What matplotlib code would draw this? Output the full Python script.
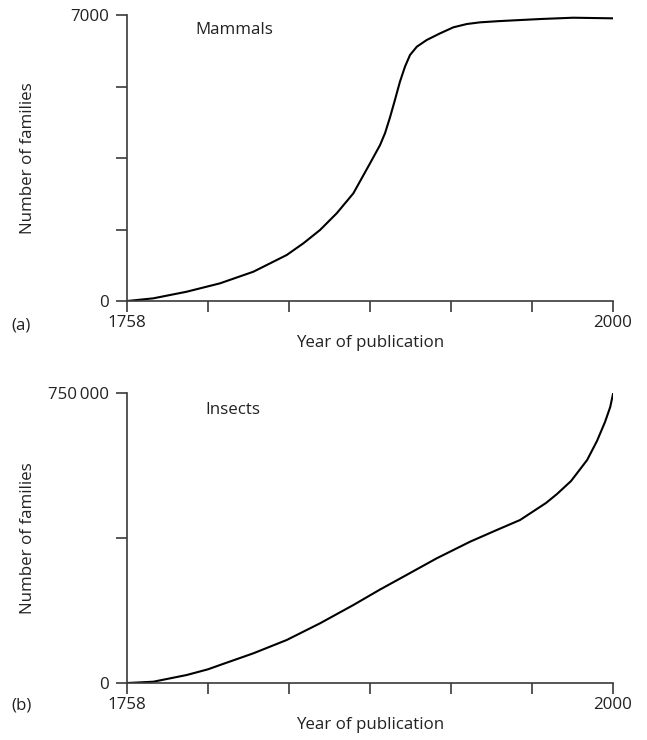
import numpy as np
import matplotlib
matplotlib.use("Agg")
import matplotlib.pyplot as plt

# mammal families described, cumulative
mammal_years = [1758, 1771.1, 1787.7, 1804.3, 1820.9, 1837.5, 1845.8, 1854.1,
                1862.4, 1870.7, 1879.0, 1884.0, 1886.5, 1889.0, 1891.4, 1893.9,
                1896.4, 1898.9, 1902.3, 1907.2, 1913.9, 1920.5, 1927.2, 1933.8,
                1942.9, 1963.7, 1980.2, 2000]
mammal_counts = [0, 66, 228, 433, 717, 1126, 1412, 1738,
                 2147, 2636, 3370, 3818, 4112, 4504, 4920, 5368,
                 5735, 6021, 6224, 6388, 6552, 6699, 6780, 6821,
                 6850, 6902, 6934, 6919]

# insect families described, cumulative
insect_years = [1758, 1771.1, 1787.7, 1798.3, 1804.3, 1820.9, 1837.5, 1854.1,
                1870.7, 1884.0, 1895.6, 1912.2, 1928.8, 1942.1, 1953.7, 1966.6,
                1972.1, 1979.1, 1987.1, 1992.0, 1996.0, 1998.6, 2000]
insect_counts = [0, 3360, 20690, 35430, 46550, 76810, 111210, 154400,
                 201720, 241810, 274910, 322500, 365430, 395690, 421550, 465520,
                 488790, 522410, 576720, 625860, 675000, 713790, 748000]

year_min, year_max = 1758, 2000
x_ticks = np.linspace(year_min, year_max, 7)
x_ticklabels = ["1758", "", "", "", "", "", "2000"]

plt.rc('font', family='Open Sans', size=12.2)
spine_col = '#3a3a3a'
text_col = '#222222'

fig = plt.figure(figsize=(6.47, 7.40), dpi=100)
ax_a = fig.add_axes([0.1963, 0.5932, 0.7512, 0.3865])
ax_b = fig.add_axes([0.1963, 0.0770, 0.7512, 0.3919])


def style_axis(ax, ymax, yticks, yticklabels, xlab_y):
    ax.set_xlim(year_min, year_max)
    ax.set_ylim(0, ymax)
    for side in ['top', 'right']:
        ax.spines[side].set_visible(False)
    for side in ['left', 'bottom']:
        ax.spines[side].set_color(spine_col)
        ax.spines[side].set_linewidth(1.2)
    ax.set_xticks(x_ticks)
    ax.set_xticklabels(x_ticklabels)
    ax.set_yticks(yticks)
    ax.set_yticklabels(yticklabels)
    ax.tick_params(axis='both', direction='out', length=8, width=1.2,
                   color=spine_col, colors=text_col)
    ax.tick_params(axis='x', pad=2)
    ax.tick_params(axis='y', pad=5)
    ax.set_xlabel("Year of publication", color=text_col)
    ax.set_ylabel("Number of families", color=text_col)
    ax.xaxis.set_label_coords(0.5, xlab_y)
    ax.yaxis.set_label_coords(-0.188, 0.5)


ax_a.plot(mammal_years, mammal_counts, color='black', lw=1.5)
style_axis(ax_a, 7000, [0, 1750, 3500, 5250, 7000], ["0", "", "", "", "7000"], -0.118)
ax_a.text(1792, 6633, "Mammals", va='center', ha='left', color=text_col)

ax_b.plot(insect_years, insect_counts, color='black', lw=1.5)
style_axis(ax_b, 750000, [0, 375000, 750000], ["0", "", "750\u2009000"], -0.117)
ax_b.text(1797, 706000, "Insects", va='center', ha='left', color=text_col)

fig.text(11/647, 1 - 325/740, "(a)", va='center', ha='left', color=text_col)
fig.text(11/647, 1 - 705/740, "(b)", va='center', ha='left', color=text_col)

fig.savefig("out.png", dpi=100)
